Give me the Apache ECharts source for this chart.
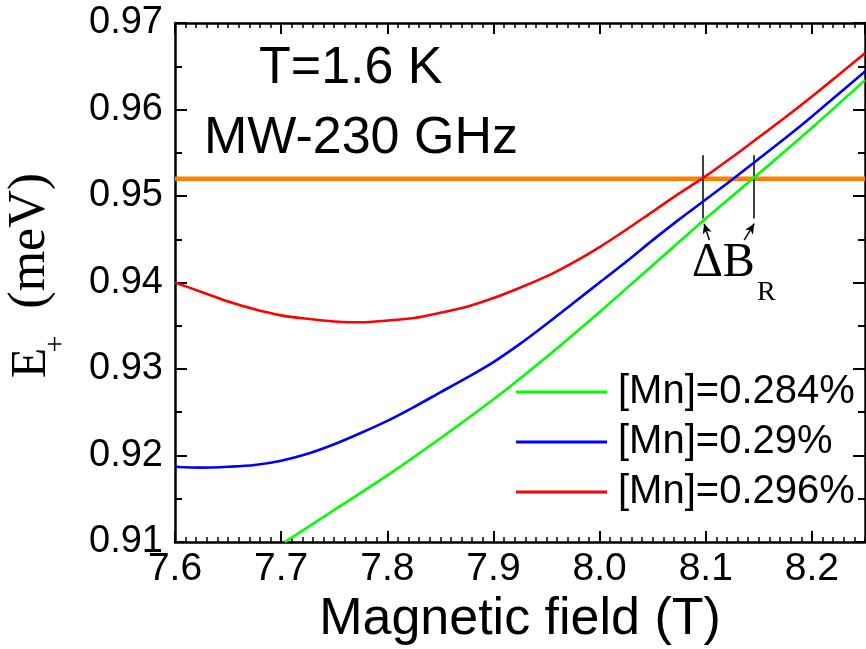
<!DOCTYPE html>
<html><head><meta charset="utf-8">
<script src="https://cdn.jsdelivr.net/npm/echarts@6/dist/echarts.min.js"></script>
<style>html,body{margin:0;padding:0;background:#fff}#c{width:866px;height:649px}</style>
</head><body><div id="c"></div>
<script>
// ---- data ----
const seriesNames = ['[Mn]=0.284%', '[Mn]=0.29%', '[Mn]=0.296%'];
const bField = [7.600, 7.625, 7.650, 7.675, 7.700, 7.725, 7.750, 7.775, 7.800, 7.825, 7.850, 7.875, 7.900, 7.925,
                7.950, 7.975, 8.000, 8.025, 8.050, 8.075, 8.100, 8.125, 8.150, 8.175, 8.200, 8.225, 8.250];
const eRed   = [0.9400, 0.9389, 0.9378, 0.9369, 0.9362, 0.9358, 0.9355, 0.9354, 0.9356, 0.9359, 0.9365, 0.9372, 0.9382, 0.9394,
                0.9407, 0.9423, 0.9441, 0.9461, 0.9482, 0.9503, 0.9523, 0.9545, 0.9568, 0.9591, 0.9615, 0.9640, 0.9665];
const eBlue  = [0.9187, 0.9186, 0.9187, 0.9189, 0.9194, 0.9202, 0.9213, 0.9226, 0.9240, 0.9256, 0.9273, 0.9290, 0.9308, 0.9329,
                0.9352, 0.9376, 0.9400, 0.9424, 0.9449, 0.9473, 0.9496, 0.9519, 0.9543, 0.9567, 0.9592, 0.9618, 0.9644];
const bGreen = [7.7035, 7.75, 7.80, 7.85, 7.90, 7.95, 8.00, 8.05, 8.10, 8.15, 8.20, 8.25];
const eGreen = [0.9100, 0.9137, 0.9177, 0.9220, 0.9265, 0.9314, 0.9366, 0.9420, 0.9474, 0.9526, 0.9579, 0.9634];
const eResonance = 0.952;
const resonanceB = [7.6, 8.25];
const markerB = [8.097, 8.145];
const markerE = [0.9474, 0.9547];
const arrowTails = [[8.1033, 0.9449], [8.1362, 0.9449]];
const arrowTips  = [[8.0985, 0.9468], [8.1456, 0.9468]];
const xRange = [7.6, 8.25];
const yRange = [0.91, 0.97];

// ---- chart ----
const SANS = '"Liberation Sans", Arial, sans-serif';
const SERIF = '"Liberation Serif", "Times New Roman", serif';
const pairs = (xs, ys) => xs.map((x, i) => [x, ys[i]]);
const axisLine = {show: true, onZero: false, lineStyle: {color: '#000', width: 2.5}};

function xAx(pos, interval, tickLen, main) {
  return {
    type: 'value', position: pos, min: xRange[0], max: xRange[1], interval: interval,
    axisLine: main ? axisLine : {show: false},
    axisTick: {show: true, inside: true, length: tickLen, lineStyle: {color: '#000', width: main ? 2 : 1.5}},
    axisLabel: (main && pos === 'bottom') ? {
      show: true, fontSize: 39, color: '#000', fontFamily: SANS, margin: 8,
      showMaxLabel: false, formatter: v => v.toFixed(1)
    } : {show: false},
    splitLine: {show: false},
    name: (main && pos === 'bottom') ? 'Magnetic field (T)' : '',
    nameLocation: 'middle', nameGap: 51,
    nameTextStyle: {fontSize: 52, color: '#000', fontFamily: SANS}
  };
}
function yAx(pos) {
  return {
    type: 'value', position: pos, min: yRange[0], max: yRange[1], interval: 0.01,
    axisLine: axisLine,
    axisTick: {show: true, inside: true, length: 12, lineStyle: {color: '#000', width: 2}},
    minorTick: {show: true, splitNumber: 2, length: 7, lineStyle: {color: '#000', width: 2}},
    axisLabel: pos === 'left' ? {
      show: true, fontSize: 38, color: '#000', fontFamily: SANS, margin: 12,
      formatter: v => v.toFixed(2)
    } : {show: false},
    splitLine: {show: false}, minorSplitLine: {show: false}
  };
}

const curve = (name, data, color) => ({
  name: name, type: 'line', data: data, symbol: 'none', showSymbol: false,
  smooth: 0.3, clip: true,
  lineStyle: {color: color, width: 2.6}, itemStyle: {color: color},
  xAxisIndex: 0, yAxisIndex: 0, z: 5
});

const vlineData = markerB.map(b => [{coord: [b, markerE[0]]}, {coord: [b, markerE[1]]}]);
const arrowData = arrowTails.map((t, i) => [{coord: t}, {coord: arrowTips[i]}]);

const txt = (text, x, y, font, align, valign, rot) => ({
  type: 'text', x: x, y: y, rotation: rot || 0, silent: true, z: 100,
  style: {text: text, font: font, fill: '#000',
          align: align, textAlign: align, verticalAlign: valign, textVerticalAlign: valign}
});

const option = {
  animation: false,
  backgroundColor: '#fff',
  grid: {left: 175, top: 23, right: 1, bottom: 107, containLabel: false, outerBoundsMode: 'none'},
  xAxis: [
    xAx('bottom', 0.1, 11, true),
    xAx('bottom', 0.01, 5, false),
    xAx('top', 0.1, 11, true),
    xAx('top', 0.01, 5, false)
  ],
  yAxis: [yAx('left'), yAx('right')],
  legend: {
    data: seriesNames, orient: 'vertical', left: 516, top: 372, padding: 0,
    icon: 'rect', itemWidth: 91, itemHeight: 3, itemGap: 10, selectedMode: false,
    textStyle: {fontSize: 40, color: '#000', fontFamily: SANS, lineHeight: 40, padding: [0, 0, 0, 6]}
  },
  series: [
    {
      name: 'resonance', type: 'line', data: resonanceB.map(b => [b, eResonance]),
      symbol: 'none', lineStyle: {color: '#ff8000', width: 4.5}, z: 2,
      xAxisIndex: 0, yAxisIndex: 0
    },
    {
      name: 'markers', type: 'line', data: [], xAxisIndex: 0, yAxisIndex: 0, z: 6,
      markLine: {
        silent: true, symbol: ['none', 'none'], label: {show: false},
        lineStyle: {color: '#000', width: 1.5, type: 'solid'},
        emphasis: {disabled: true}, animation: false,
        data: vlineData
      }
    },
    {
      name: 'arrows', type: 'line', data: [], xAxisIndex: 0, yAxisIndex: 0, z: 6,
      markLine: {
        silent: true, symbol: ['none', 'arrow'], symbolSize: [7, 10], label: {show: false},
        lineStyle: {color: '#000', width: 1.5, type: 'solid'},
        emphasis: {disabled: true}, animation: false,
        data: arrowData
      }
    },
    curve(seriesNames[0], pairs(bGreen, eGreen), '#00ff00'),
    curve(seriesNames[1], pairs(bField, eBlue), '#0000ff'),
    curve(seriesNames[2], pairs(bField, eRed), '#ff0000')
  ],
  graphic: [
    txt('T=1.6 K', 259, 68.7, '52px ' + SANS, 'left', 'middle'),
    txt('MW-230 GHz', 204, 138.7, '52px ' + SANS, 'left', 'middle'),
    txt('\u0394B', 692, 263.8, '48px ' + SERIF, 'left', 'middle'),
    txt('R', 757, 292.3, '28px ' + SERIF, 'left', 'middle'),
    txt('E', 31.4, 378.3, '50px ' + SERIF, 'left', 'middle', Math.PI / 2),
    txt('+', 55.9, 344, '30px ' + SERIF, 'center', 'middle', Math.PI / 2),
    txt('(meV)', 30.8, 240.8, '52px ' + SERIF, 'center', 'middle', Math.PI / 2)
  ]
};

const chart = echarts.init(document.getElementById('c'), null, {renderer: 'canvas'});
chart.setOption(option);
</script>
</body></html>
